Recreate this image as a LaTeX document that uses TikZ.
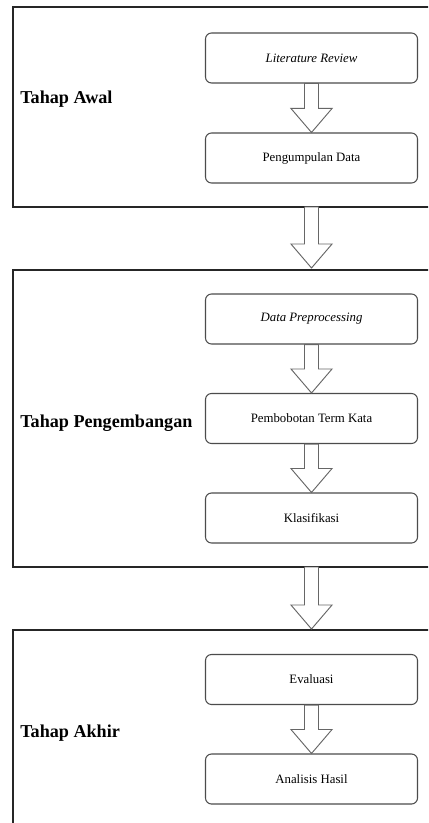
\documentclass[tikz,border=0pt]{standalone}
\usepackage{fontspec}
\setmainfont{Liberation Serif}
\usetikzlibrary{calc}

\tikzset{
  stage/.style={draw=black!85, line width=1.1pt},
  stepbox/.style={draw=black!70, line width=0.8pt, rounded corners=4.5pt,
    minimum width=212\pxu, minimum height=50\pxu, inner sep=0pt,
    font=\fontsize{9.6pt}{11pt}\selectfont},
  stagelabel/.style={anchor=west, inner sep=0pt,
    font=\fontsize{13.6pt}{16pt}\selectfont\bfseries},
  blockarrow/.style={draw=black!60, fill=white, line width=0.7pt, line join=miter},
}
% one pixel of the 428 x 823 canvas
\newlength{\pxu}\setlength{\pxu}{0.75pt}

% hollow block arrow from the bottom of #1 to the top of #2
\newcommand{\hollowarrow}[2]{%
  \draw[blockarrow] let \p1=(#1), \p2=(#2) in
    (\x1-5.25pt,\y1) -- (\x1-5.25pt,\y2+18pt) -- (\x1-15.4pt,\y2+18pt)
    -- (\x2,\y2) -- (\x1+15.4pt,\y2+18pt) -- (\x1+5.25pt,\y2+18pt)
    -- (\x1+5.25pt,\y1) -- cycle;}

\begin{document}
\begin{tikzpicture}[x=0.75pt, y=-0.75pt]
  \useasboundingbox (0,0) rectangle (428,823);
  \clip (0,0) rectangle (428,823);
  \fill[white] (0,0) rectangle (428,823);

  % the three stage frames (open at the right and at the bottom)
  \draw[stage] (13,7) rectangle (440,207);
  \draw[stage] (13,270) rectangle (440,567);
  \draw[stage] (13,630) rectangle (440,840);

  \coordinate (s1b) at (311.5,207);
  \coordinate (s2t) at (311.5,268);
  \coordinate (s2b) at (311.5,567);
  \coordinate (s3t) at (311.5,629);

  % stage titles
  \node[stagelabel] (lab1) at (20,99) {Tahap Awal};
  \node[stagelabel] (lab2) at (20,423) {Tahap Pengembangan};
  \node[stagelabel] (lab3) at (20,733) {Tahap Akhir};

  % steps
  \node[stepbox] (lit)  at (311.5,58)  {\textit{Literature Review}};
  \node[stepbox] (pd)   at (311.5,158) {Pengumpulan Data};
  \node[stepbox] (prep) at (311.5,319) {\textit{Data Preprocessing}};
  \node[stepbox] (bobot) at (311.5,418.5) {Pembobotan Term Kata};
  \node[stepbox] (klas) at (311.5,518) {Klasifikasi};
  \node[stepbox] (eval) at (311.5,679.5) {Evaluasi};
  \node[stepbox] (anal) at (311.5,779) {Analisis Hasil};

  % connectors
  \hollowarrow{lit.south}{pd.north}
  \hollowarrow{s1b}{s2t}
  \hollowarrow{prep.south}{bobot.north}
  \hollowarrow{bobot.south}{klas.north}
  \hollowarrow{s2b}{s3t}
  \hollowarrow{eval.south}{anal.north}
\end{tikzpicture}
\end{document}
